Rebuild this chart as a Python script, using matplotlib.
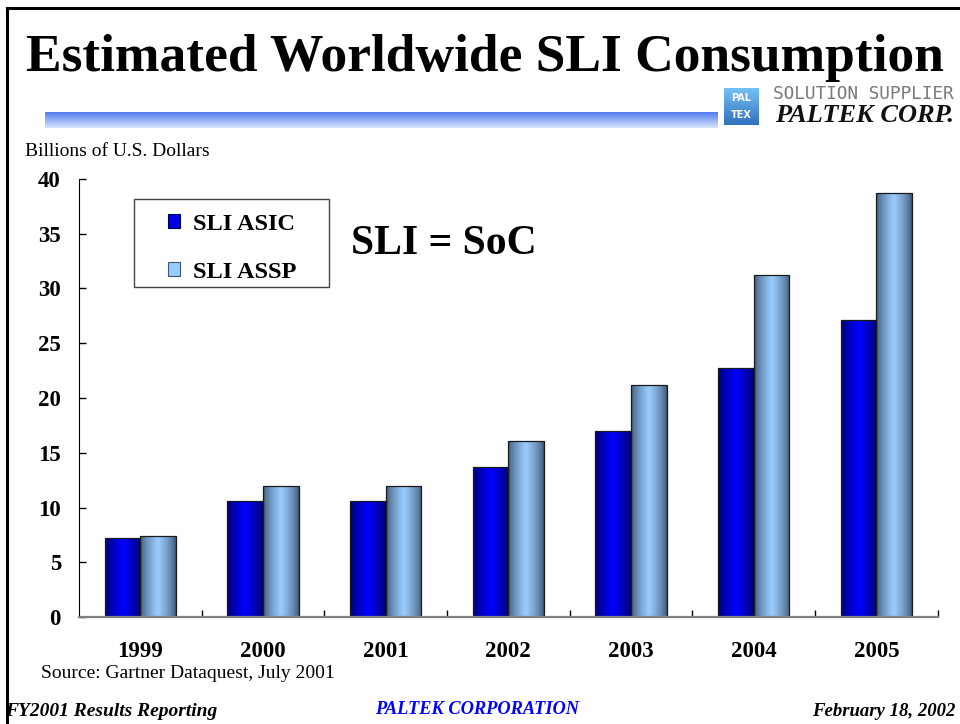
import numpy as np
import matplotlib
matplotlib.use("Agg")
from matplotlib import pyplot as plt
from matplotlib.patches import Rectangle, Patch
from matplotlib.lines import Line2D

years = ["1999", "2000", "2001", "2002", "2003", "2004", "2005"]
sli_asic = [7.2, 10.6, 10.6, 13.7, 17.0, 22.7, 27.1]
sli_assp = [7.4, 12.0, 12.0, 16.1, 21.2, 31.2, 38.7]
series_names = ["SLI ASIC", "SLI ASSP"]
yticks = [0, 5, 10, 15, 20, 25, 30, 35, 40]

plt.rcParams["font.family"] = ["Liberation Serif", "DejaVu Serif"]


def cylinder(edge_rgb, mid_rgb, n=64, power=1.0):
    # horizontal shading: dark at the sides, light in the middle
    t = np.linspace(-1, 1, n)
    w = (1 - np.abs(t)) ** power
    edge = np.array(edge_rgb) / 255.0
    mid = np.array(mid_rgb) / 255.0
    return (edge[None, :] * (1 - w[:, None]) + mid[None, :] * w[:, None])[None, :, :]


def shade(ax, bars, grad):
    for b in bars:
        x0, y0 = b.get_x(), b.get_y()
        im = ax.imshow(grad, extent=(x0, x0 + b.get_width(), y0, y0 + b.get_height()),
                       aspect="auto", interpolation="bilinear", zorder=b.get_zorder() + 0.1)
        im.set_clip_path(b)
        ax.add_patch(Rectangle((x0, y0), b.get_width(), b.get_height(), fill=False,
                               edgecolor="#1a1a1a", linewidth=0.9, zorder=b.get_zorder() + 0.2))


fig = plt.figure(figsize=(9.6, 7.24), dpi=100)

# slide frame
fig.add_artist(Line2D([7 / 960, 7 / 960], [0, 1 - 8 / 724], color="black", lw=2.2))
fig.add_artist(Line2D([7 / 960, 1], [1 - 8 / 724, 1 - 8 / 724], color="black", lw=2.2))

fig.text(485 / 960, 1 - 71 / 724, "Estimated Worldwide SLI Consumption", ha="center", va="baseline",
         fontsize=38.5, fontweight="bold")

# gradient band under the title
band = fig.add_axes([45 / 960, 1 - 128 / 724, (718 - 45) / 960, 16 / 724])
top = np.array([85, 125, 240]) / 255.0
bot = np.array([215, 228, 252]) / 255.0
t = np.linspace(0, 1, 32)[:, None]
band.imshow((top * (1 - t) + bot * t)[:, None, :], aspect="auto", extent=(0, 1, 0, 1))
band.axis("off")

# logo
logo = fig.add_axes([724 / 960, 1 - 125 / 724, 35 / 960, 37 / 724])
ramp = np.linspace(0, 1, 16)[:, None] * np.ones((16, 16))
logo.imshow(np.dstack([0.45 - 0.25 * ramp, 0.75 - 0.3 * ramp, 0.95 - 0.2 * ramp]),
            aspect="auto", extent=(0, 1, 0, 1))
logo.text(0.5, 0.72, "PAL", ha="center", va="center", color="white", fontsize=7,
          fontweight="bold", family="DejaVu Sans")
logo.text(0.5, 0.28, "TEX", ha="center", va="center", color="white", fontsize=7,
          fontweight="bold", family="DejaVu Sans")
logo.axis("off")
fig.text(954 / 960, 1 - 94 / 724, "SOLUTION SUPPLIER", ha="right", va="center", fontsize=12.8,
         color="#7a7a7a", family="DejaVu Sans Mono")
fig.text(954 / 960, 1 - 115 / 724, "PALTEK CORP.", ha="right", va="center", fontsize=19,
         fontweight="bold", fontstyle="italic", color="#111111")

fig.text(25 / 960, 1 - 152 / 724, "Billions of U.S. Dollars", ha="left", va="center", fontsize=14)

ax = fig.add_axes([79 / 960, 107 / 724, (937.7 - 79) / 960, (617 - 179) / 724])
x = np.arange(len(years))
w = 0.29
b1 = ax.bar(x - w / 2, sli_asic, w, color="#0000e0", zorder=2)
b2 = ax.bar(x + w / 2, sli_assp, w, color="#99ccff", zorder=2)
shade(ax, b1, cylinder([0, 0, 110], [0, 0, 255], power=0.8))
shade(ax, b2, cylinder([60, 85, 115], [155, 205, 255], power=0.7))

ax.set_xlim(-0.5, len(years) - 0.5)
ax.set_ylim(0, 40)
ax.set_yticks(yticks)
ax.set_yticklabels([str(v) for v in yticks], fontsize=16.5, fontweight="bold")
ax.set_xticks(x)
ax.set_xticklabels(years, fontsize=16.5, fontweight="bold")
ax.set_xticks(list(x + 0.5), minor=True)
ax.tick_params(axis="x", which="major", length=0, pad=17)
ax.tick_params(axis="x", which="minor", direction="in", length=5, width=1, color="black")
ax.tick_params(axis="y", direction="in", length=5, width=1, pad=13)
for s in ["top", "right"]:
    ax.spines[s].set_visible(False)
ax.spines["left"].set_linewidth(0.8)
ax.spines["bottom"].set_color("#808080")
ax.spines["bottom"].set_linewidth(1.6)
ax.set_facecolor("none")

# legend box
ax.add_patch(Rectangle((0.064, 0.753), (329 - 134) / 858.7, 0.201, transform=ax.transAxes,
                       fill=False, edgecolor="#444444", linewidth=1.0, zorder=3))
handles = [Patch(facecolor="#0000e6", edgecolor="#000050", linewidth=0.8),
           Patch(facecolor="#99ccff", edgecolor="#3c5573", linewidth=0.8)]
ax.legend(handles, series_names, loc="upper left", bbox_to_anchor=(0.104, 0.92), frameon=False,
          borderaxespad=0, borderpad=0, handlelength=0.5, handleheight=0.5,
          handletextpad=0.5, labelspacing=1.1, prop={"size": 17.5, "weight": "bold"})

ax.text((351 - 79) / 858.7, (617 - 244) / 438, "SLI = SoC", transform=ax.transAxes,
        ha="left", va="center", fontsize=30, fontweight="bold")

fig.text(41 / 960, 1 - 674 / 724, "Source: Gartner Dataquest, July 2001", ha="left", va="center",
         fontsize=14)

fig.text(5 / 960, 1 - 711 / 724, "FY2001 Results Reporting", ha="left", va="center",
         fontsize=14, fontweight="bold", fontstyle="italic")
fig.text(477 / 960, 1 - 709 / 724, "PALTEK CORPORATION", ha="center", va="center",
         fontsize=13.2, fontweight="bold", fontstyle="italic", color="#0000ff")
fig.text(955 / 960, 1 - 711 / 724, "February 18, 2002", ha="right", va="center",
         fontsize=13.5, fontweight="bold", fontstyle="italic")

fig.savefig("out.png", dpi=100)
